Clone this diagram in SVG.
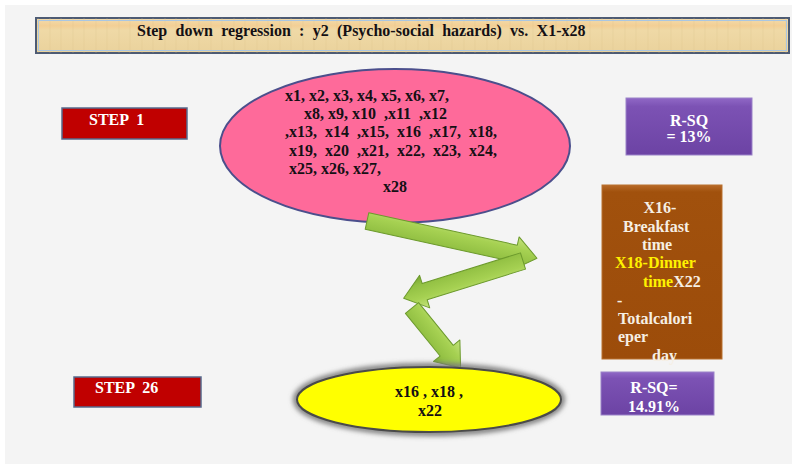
<svg xmlns="http://www.w3.org/2000/svg" width="792" height="468" viewBox="0 0 792 468">
  <defs>
    <style>
      .t { font-family: "Liberation Serif", "Times New Roman", serif; font-weight: bold; font-size: 16px; white-space: pre; }
      .dark { fill: #141014; }
      .light { fill: #ffffff; }
      .cream { fill: #f6efe4; }
      .yel { fill: #fff200; }
      .redbox { fill: #c00000; stroke: #56698c; stroke-width: 1.5; }
      .purplebox { fill: url(#purpleGrad); stroke: #9a82c8; stroke-width: 1; }
      .arrow { fill: url(#greenGrad); stroke: #6c9a2c; stroke-width: 1; stroke-linejoin: round; }
    </style>
    <linearGradient id="papyrus" x1="0" y1="0" x2="0" y2="1">
      <stop offset="0" stop-color="#f1dcae"/>
      <stop offset="0.22" stop-color="#f3cf95"/>
      <stop offset="0.35" stop-color="#efd9a6"/>
      <stop offset="1" stop-color="#ead29c"/>
    </linearGradient>
    <pattern id="fibres" width="23" height="35" patternUnits="userSpaceOnUse">
      <rect width="23" height="35" fill="none"/>
      <path d="M4 0 V35 M15 0 V35" stroke="#d9bd86" stroke-width="0.8" opacity="0.35"/>
    </pattern>
    <linearGradient id="purpleGrad" x1="0" y1="0" x2="0" y2="1">
      <stop offset="0" stop-color="#9068c6"/>
      <stop offset="0.15" stop-color="#7c52b4"/>
      <stop offset="1" stop-color="#6c43a4"/>
    </linearGradient>
    <linearGradient id="brownGrad" x1="0" y1="0" x2="0" y2="1">
      <stop offset="0" stop-color="#b86a28"/>
      <stop offset="0.04" stop-color="#a1510d"/>
      <stop offset="1" stop-color="#9c4c0a"/>
    </linearGradient>
    <linearGradient id="greenGrad" x1="0" y1="0" x2="0" y2="1">
      <stop offset="0" stop-color="#c4e27e"/>
      <stop offset="0.35" stop-color="#a6d152"/>
      <stop offset="0.75" stop-color="#92c043"/>
      <stop offset="1" stop-color="#77a532"/>
    </linearGradient>
    <filter id="halo" x="-10%" y="-30%" width="120%" height="160%">
      <feGaussianBlur stdDeviation="2.5"/>
    </filter>
  </defs>

  <!-- page -->
  <rect width="792" height="468" fill="#ffffff"/>
  <rect x="5" y="5" width="787" height="459" fill="#f4f4f4"/>

  <!-- title banner -->
  <g id="title">
    <rect x="36" y="18" width="753" height="35" fill="url(#papyrus)" stroke="#4d5b74" stroke-width="2"/>
    <rect x="36" y="18" width="753" height="35" fill="url(#fibres)"/>
    <rect x="38.5" y="20.5" width="748" height="30" fill="none" stroke="#a9c6e2" stroke-width="1"/>
    <text class="t dark" x="137" y="36" style="word-spacing:4.3px">Step down regression : y2 (Psycho-social hazards) vs. X1-x28</text>
  </g>

  <!-- step labels -->
  <g id="step1">
    <rect class="redbox" x="62" y="108" width="125" height="31"/>
    <text class="t light" x="89" y="125" font-size="15">STEP  1</text>
  </g>
  <g id="step26">
    <rect class="redbox" x="74" y="377" width="127" height="30"/>
    <text class="t light" x="95" y="393" font-size="15">STEP  26</text>
  </g>

  <!-- full variable set -->
  <g id="allVars">
    <ellipse cx="395" cy="146" rx="175" ry="77" fill="#fe6a9a" stroke="#4b4f8c" stroke-width="2"/>
    <text class="t dark" x="285" y="101">x1, x2, x3, x4, x5, x6, x7,</text>
    <text class="t dark" x="304" y="119">x8, x9, x10  ,x11  ,x12</text>
    <text class="t dark" x="285" y="137">,x13,  x14  ,x15,  x16  ,x17,  x18,</text>
    <text class="t dark" x="289" y="156">x19,  x20  ,x21,  x22,  x23,  x24,</text>
    <text class="t dark" x="289" y="174">x25, x26, x27,</text>
    <text class="t dark" x="383" y="192">x28</text>
  </g>

  <!-- step-down arrows -->
  <g id="connectors">
    <polygon class="arrow" transform="translate(367,221) rotate(12.35)" points="0,-8.5 152,-8.5 152,-17 174,0 152,17 152,8.5 0,8.5"/>
    <polygon class="arrow" transform="translate(523,261) rotate(162.7)" points="0,-8.5 103,-8.5 103,-17 125,0 103,17 103,8.5 0,8.5"/>
    <polygon class="arrow" transform="translate(412,308) rotate(50.9)" points="0,-8.5 55,-8.5 55,-17 77,0 55,17 55,8.5 0,8.5"/>
  </g>

  <!-- retained variables -->
  <g id="finalVars">
    <ellipse cx="429" cy="399.5" rx="133" ry="33.5" fill="none" stroke="#7a7a7a" stroke-width="6" filter="url(#halo)"/>
    <ellipse cx="429" cy="399.5" rx="132" ry="32.5" fill="#ffff00" stroke="#4a4a4a" stroke-width="2"/>
    <text class="t dark" x="429" y="397" text-anchor="middle">x16 , x18 ,</text>
    <text class="t dark" x="430" y="416" text-anchor="middle">x22</text>
  </g>

  <!-- R-squared, first step -->
  <g id="rsq1">
    <rect class="purplebox" x="626" y="98" width="126" height="57"/>
    <text class="t light" x="689" y="126" text-anchor="middle">R-SQ</text>
    <text class="t light" x="689" y="142" text-anchor="middle">= 13%</text>
  </g>

  <!-- variable descriptions -->
  <g id="legend">
    <rect x="602" y="185" width="120" height="174" fill="url(#brownGrad)" stroke="#b8702e" stroke-width="1"/>
    <text class="t cream" x="660" y="213" text-anchor="middle">X16-</text>
    <text class="t cream" x="623" y="232">Breakfast</text>
    <text class="t cream" x="657" y="250" text-anchor="middle">time</text>
    <text class="t yel" x="615" y="268">X18-Dinner</text>
    <text class="t" x="643" y="287"><tspan class="yel">time</tspan><tspan class="cream">X22</tspan></text>
    <text class="t cream" x="617" y="306">-</text>
    <text class="t cream" x="618" y="324">Totalcalori</text>
    <text class="t cream" x="618" y="342">eper</text>
    <text class="t cream" x="652" y="361">day</text>
  </g>

  <!-- R-squared, final step -->
  <g id="rsq26">
    <rect class="purplebox" x="601" y="372" width="113" height="43"/>
    <text class="t light" x="654" y="393" text-anchor="middle">R-SQ=</text>
    <text class="t light" x="654" y="412" text-anchor="middle">14.91%</text>
  </g>
</svg>
